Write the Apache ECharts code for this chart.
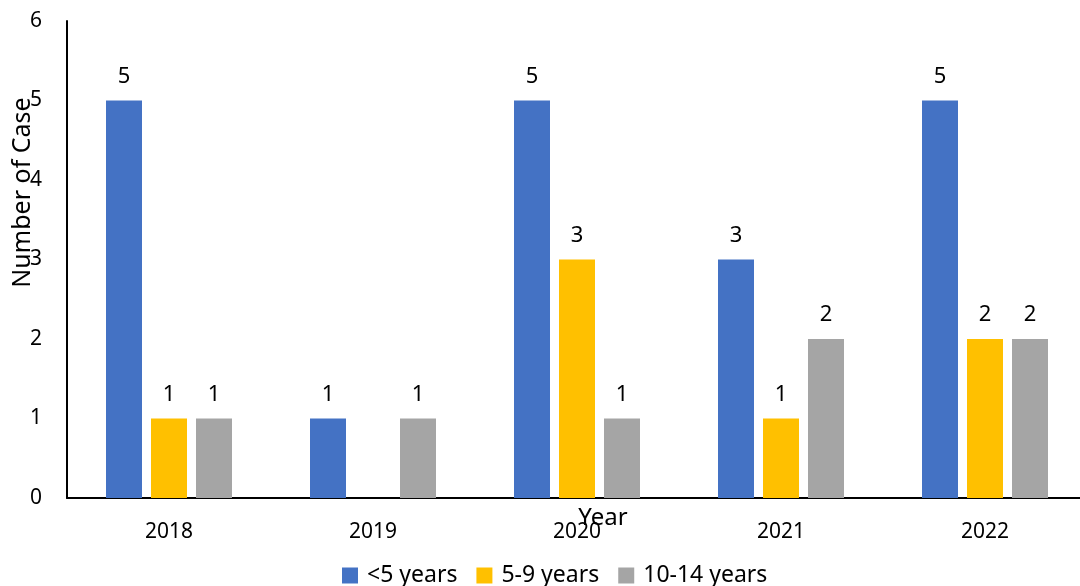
<!DOCTYPE html>
<html>
<head>
<meta charset="utf-8">
<script src="https://cdn.jsdelivr.net/npm/echarts@6/dist/echarts.min.js"></script>
<style>html,body{margin:0;padding:0;background:#fff;}#c{width:1080px;height:586px;}</style>
</head>
<body>
<div id="c"></div>
<script>
const years = ['2018', '2019', '2020', '2021', '2022'];
const under5 = [5, 1, 5, 3, 5];
const age5to9 = [1, 0, 3, 1, 2];
const age10to14 = [1, 1, 1, 2, 2];
const seriesNames = ['<5 years', '5-9 years', '10-14 years'];
const yTicks = [0, 1, 2, 3, 4, 5, 6];

const FONT = '"Noto Sans", "Open Sans", sans-serif';
const colors = ['#4472C4', '#FFC000', '#A5A5A5'];
const labelCfg = {
  show: true, position: 'top', distance: 13,
  color: '#000', fontSize: 22, fontFamily: FONT,
  formatter: p => (p.value === 0 ? '' : String(p.value))
};
const mk = (name, data, i) => ({
  name, type: 'bar', data, barWidth: 36, barGap: '25%',
  itemStyle: { color: colors[i] }, label: labelCfg
});

const chart = echarts.init(document.getElementById('c'));
chart.setOption({
  animation: false,
  textStyle: { fontFamily: FONT },
  grid: { left: 67, right: -7, top: 21, bottom: 88, containLabel: false, outerBoundsMode: 'none' },
  legend: {
    data: seriesNames, top: 559, left: 337,
    itemWidth: 16, itemHeight: 16, itemGap: 19,
    icon: 'rect',
    textStyle: { fontSize: 23, color: '#000', fontFamily: FONT, padding: [0, 0, 0, 4] }
  },
  xAxis: {
    type: 'category', data: years,
    name: 'Year', nameLocation: 'middle', nameGap: 8, nameMoveOverlap: false,
    nameTextStyle: { fontSize: 24, color: '#000', fontFamily: FONT, padding: [0, 0, 0, 52] },
    axisLine: { lineStyle: { color: '#000', width: 2 } },
    axisTick: { show: false },
    axisLabel: { fontSize: 21, color: '#000', margin: 24, fontFamily: FONT }
  },
  yAxis: {
    type: 'value', min: yTicks[0], max: yTicks[yTicks.length - 1], interval: 1,
    name: 'Number of Case', nameLocation: 'middle', nameGap: 32, nameMoveOverlap: false,
    nameTextStyle: { fontSize: 25, color: '#000', fontFamily: FONT, padding: [0, 0, 0, 134] },
    axisLine: { show: true, lineStyle: { color: '#000', width: 2 } },
    axisTick: { show: false },
    splitLine: { show: false },
    axisLabel: { fontSize: 21, color: '#000', margin: 25, fontFamily: FONT }
  },
  series: [
    mk(seriesNames[0], under5, 0),
    mk(seriesNames[1], age5to9, 1),
    mk(seriesNames[2], age10to14, 2)
  ]
});
</script>
</body>
</html>
